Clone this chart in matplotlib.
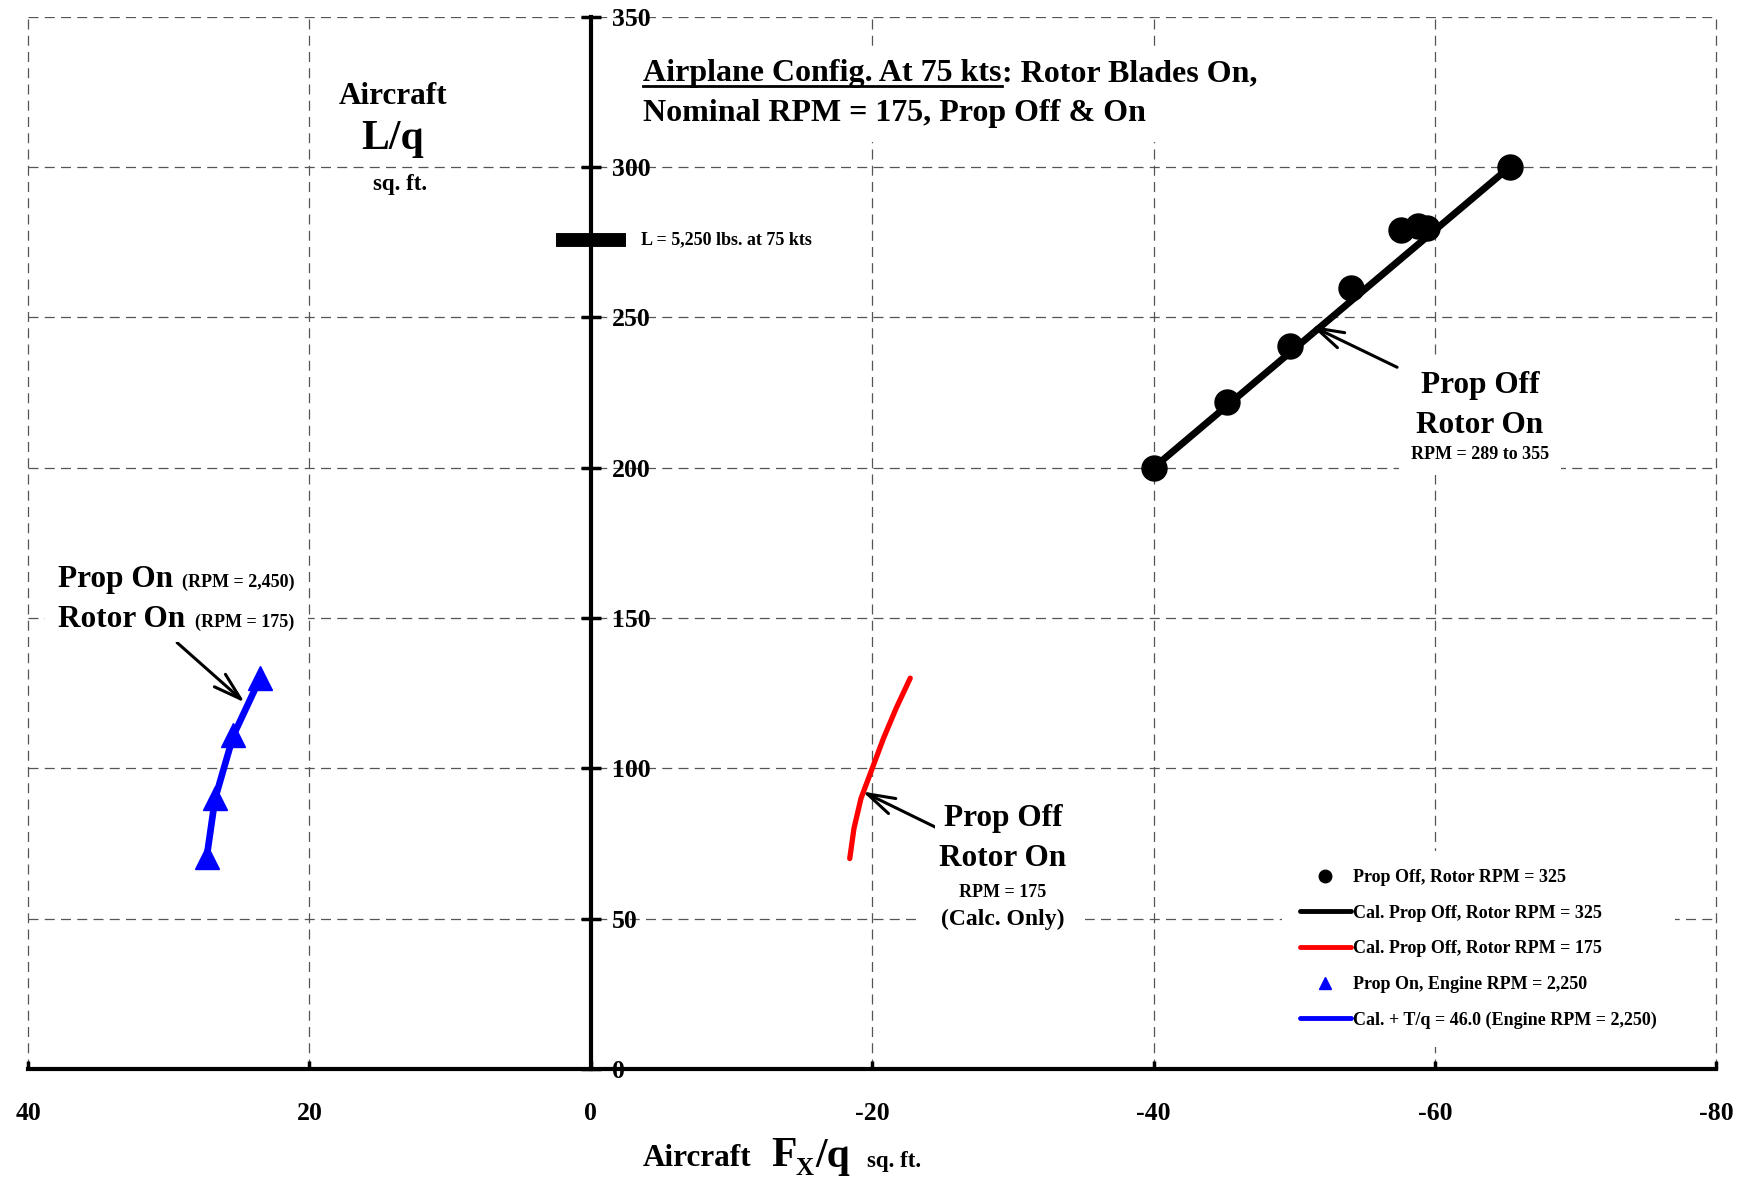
import matplotlib
matplotlib.use("Agg")
import matplotlib.pyplot as plt
from matplotlib.lines import Line2D
from matplotlib.patches import Rectangle

plt.rcParams['font.family'] = ['Liberation Serif', 'DejaVu Serif']
plt.rcParams['font.weight'] = 'bold'

W, H = 1750, 1178

# measured test points, prop off, rotor RPM = 325
prop_off_x = [-40.0, -45.2, -49.7, -54.0, -57.6, -58.8, -59.4, -65.3]
prop_off_y = [200.0, 222.0, 240.5, 259.9, 279.0, 280.5, 279.7, 300.0]

# calculated, prop off, rotor RPM = 325
cal325_x = [-40.0, -65.3]
cal325_y = [200.0, 300.0]

# calculated, prop off, rotor RPM = 175
cal175_x = [-18.4, -18.7, -19.2, -20.0, -20.8, -21.7, -22.7]
cal175_y = [70.0, 80.0, 90.0, 100.0, 110.0, 120.0, 130.0]

# prop on, engine RPM = 2,250 (points and calc.)
prop_on_x = [27.3, 26.7, 25.4, 23.5]
prop_on_y = [70.5, 90.0, 111.0, 130.0]

# L = 5,250 lbs at 75 kts
lq_target = 275.6
lq_bar_x = [2.5, -2.5]

x_ticks = [40, 20, 0, -20, -40, -60, -80]
y_ticks = [0, 50, 100, 150, 200, 250, 300, 350]


def fpos(px, py):
    # pixel position (from top left) -> figure fraction
    return px / W, 1 - py / H


def white_box(texts, padx, pady=None):
    # white patch behind a group of texts, hides the grid there
    if pady is None:
        pady = padx
    r = fig.canvas.get_renderer()
    bbs = [t.get_window_extent(r) for t in texts]
    x0 = min(b.x0 for b in bbs) - padx
    x1 = max(b.x1 for b in bbs) + padx
    y0 = min(b.y0 for b in bbs) - pady
    y1 = max(b.y1 for b in bbs) + pady
    fig.add_artist(Rectangle((x0 / W, y0 / H), (x1 - x0) / W, (y1 - y0) / H,
                             transform=fig.transFigure, fc='white', ec='none', zorder=2.5))


fig = plt.figure(figsize=(W / 100, H / 100), dpi=100)
ax = fig.add_axes([28 / W, 1 - 1069 / H, (1716.5 - 28) / W, (1069 - 16.7) / H])

ax.set_xlim(40, -80)
ax.set_ylim(0, 350)
ax.set_xticks(x_ticks)
ax.set_yticks(y_ticks)
ax.set_xticklabels([str(v) for v in x_ticks])
ax.set_yticklabels([str(v) for v in y_ticks])

ax.set_axisbelow(True)
ax.grid(True, color='#555555', linestyle=(0, (8, 5)), linewidth=0.9)
for gl in ax.get_xgridlines() + ax.get_ygridlines():
    gl.set_clip_on(False)

for side in ['top', 'left']:
    ax.spines[side].set_visible(False)
ax.spines['right'].set_position(('data', 0))
ax.spines['right'].set_linewidth(3)
ax.spines['bottom'].set_linewidth(3)
ax.yaxis.tick_right()
ax.tick_params(axis='y', direction='inout', length=15, width=2.5, pad=8, labelsize=18.5)
ax.tick_params(axis='x', direction='in', length=6, width=2.5, pad=24, labelsize=18.5)

# data
h_pts, = ax.plot(prop_off_x, prop_off_y, 'o', color='black', ms=18, zorder=4,
                 label='Prop Off, Rotor RPM = 325')
h_325, = ax.plot(cal325_x, cal325_y, '-', color='black', lw=5, solid_capstyle='round', zorder=3,
                 label='Cal. Prop Off, Rotor RPM = 325')
h_175, = ax.plot(cal175_x, cal175_y, '-', color='red', lw=3.8, solid_capstyle='round', zorder=3,
                 label='Cal. Prop Off, Rotor RPM = 175')
h_tri, = ax.plot(prop_on_x, prop_on_y, '^', color='blue', ms=17, zorder=4,
                 label='Prop On, Engine RPM = 2,250')
h_cal, = ax.plot(prop_on_x, prop_on_y, '-', color='blue', lw=4.8, solid_capstyle='round', zorder=3,
                 label='Cal. + T/q = 46.0 (Engine RPM = 2,250)')

ax.plot(lq_bar_x, [lq_target, lq_target], color='black', lw=10, solid_capstyle='butt', zorder=5)

leg = ax.legend(handles=[h_pts, h_325, h_175, h_tri, h_cal], loc='upper left',
                bbox_to_anchor=fpos(1282, 851), bbox_transform=fig.transFigure,
                frameon=True, fancybox=False, facecolor='white', edgecolor='none', framealpha=1,
                borderpad=1.0, borderaxespad=0, handlelength=2.8,
                handletextpad=0.15, labelspacing=1.03, fontsize=13, markerscale=0.5)
for ln in leg.get_lines():
    if ln.get_linestyle() == '-':
        ln.set_linewidth(3.5)

# arrows
arrow = dict(arrowstyle='->,head_length=1.0,head_width=0.3', lw=2.2, color='black',
             shrinkA=0, shrinkB=0, mutation_scale=20)
ax.annotate('', xy=(-51.2, 247.2), xytext=(-57.3, 233.4), arrowprops=arrow)
ax.annotate('', xy=(-19.3, 92.3), xytext=(-24.9, 79.5), arrowprops=arrow)
ax.annotate('', xy=(24.6, 121.9), xytext=(29.4, 141.8), arrowprops=arrow)

# y-axis title block
fig.text(*fpos(393, 103.5), 'Aircraft', ha='center', va='baseline', fontsize=22.5)
fig.text(*fpos(393, 148.5), 'L/q', ha='center', va='baseline', fontsize=30)
fig.text(*fpos(400, 190), 'sq. ft.', ha='center', va='baseline', fontsize=16.5)

# x-axis title pieces
fig.text(*fpos(643, 1166.5), 'Aircraft', ha='left', va='baseline', fontsize=22.5)
fig.text(*fpos(771, 1166.5), 'F', ha='left', va='baseline', fontsize=30)
fig.text(*fpos(796, 1175), 'X', ha='left', va='baseline', fontsize=18)
fig.text(*fpos(815, 1166.5), '/q', ha='left', va='baseline', fontsize=30)
fig.text(*fpos(867, 1166.5), 'sq. ft.', ha='left', va='baseline', fontsize=16.5)

fig.text(*fpos(641, 240), 'L = 5,250 lbs. at 75 kts', ha='left', va='center', fontsize=13)

# curve labels
k1 = fig.text(*fpos(1480, 393), 'Prop Off', ha='center', va='baseline', fontsize=22.5)
k2 = fig.text(*fpos(1480, 433), 'Rotor On', ha='center', va='baseline', fontsize=22.5)
k3 = fig.text(*fpos(1480, 459), 'RPM = 289 to 355', ha='center', va='baseline', fontsize=13)

r1 = fig.text(*fpos(1003, 826), 'Prop Off', ha='center', va='baseline', fontsize=22.5)
r2 = fig.text(*fpos(1003, 866), 'Rotor On', ha='center', va='baseline', fontsize=22.5)
r3 = fig.text(*fpos(1003, 897), 'RPM = 175', ha='center', va='baseline', fontsize=13)
r4 = fig.text(*fpos(1003, 925), '(Calc. Only)', ha='center', va='baseline', fontsize=17)

b1 = fig.text(*fpos(58, 587), 'Prop On', ha='left', va='baseline', fontsize=22.5)
b2 = fig.text(*fpos(182, 587), '(RPM = 2,450)', ha='left', va='baseline', fontsize=13)
b3 = fig.text(*fpos(58, 627), 'Rotor On', ha='left', va='baseline', fontsize=22.5)
b4 = fig.text(*fpos(195, 627), '(RPM = 175)', ha='left', va='baseline', fontsize=13)

# title with underlined first part
t1 = fig.text(*fpos(643, 81.5), 'Airplane Config. At 75 kts', ha='left', va='baseline', fontsize=23)
t2 = fig.text(*fpos(643, 120.5), 'Nominal RPM = 175, Prop Off & On', ha='left', va='baseline', fontsize=23)

fig.canvas.draw()
bb = t1.get_window_extent()
t1b = fig.text(bb.x1 / W, 1 - 81.5 / H, ': Rotor Blades On,', ha='left', va='baseline', fontsize=23)

# white patches behind label groups
white_box([t1, t1b, t2], 14)
white_box([k1, k2, k3], 12)
white_box([r1, r2, r3, r4], 4)
white_box([r4], 20, 4)
white_box([b1, b2, b3, b4], 13, 8)

# underline
uy = 1 - 86 / H
fig.add_artist(Line2D([bb.x0 / W, bb.x1 / W], [uy, uy], transform=fig.transFigure,
                      color='black', lw=2, zorder=3))

fig.savefig('out.png', dpi=100)
